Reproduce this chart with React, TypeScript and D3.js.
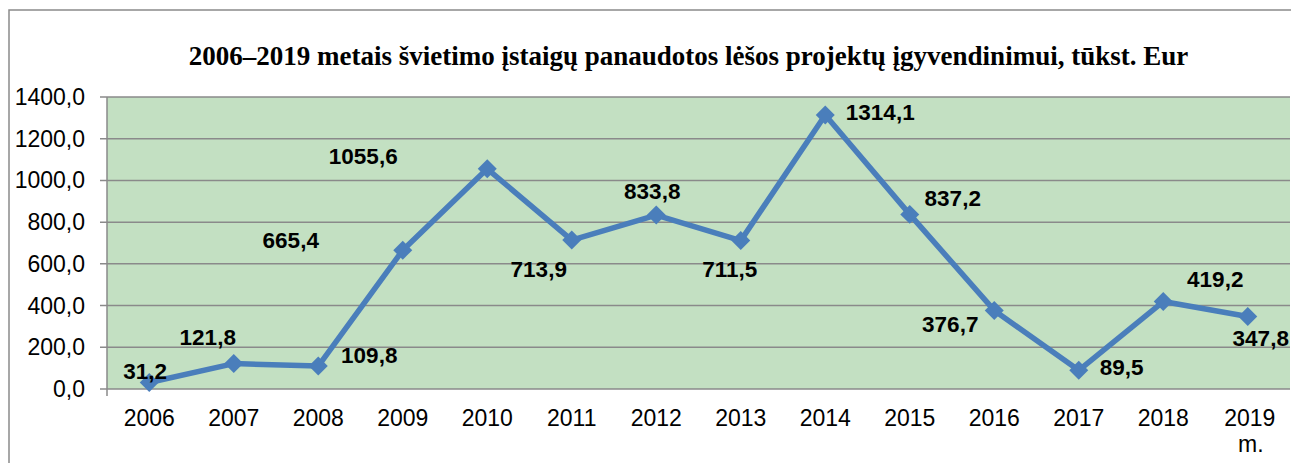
import React, { useEffect, useRef } from 'react';
import * as d3 from 'd3';

const years = ['2006', '2007', '2008', '2009', '2010', '2011', '2012', '2013', '2014', '2015', '2016', '2017', '2018', '2019'];
const values = [31.2, 121.8, 109.8, 665.4, 1055.6, 713.9, 833.8, 711.5, 1314.1, 837.2, 376.7, 89.5, 419.2, 347.8];
const yTicks = [0, 200, 400, 600, 800, 1000, 1200, 1400];
// where each value label sits, relative to its point (px)
const labelOffsets = [
  [-4, -3], [-26, -19], [51, -3], [-112, -2], [-124, -5], [-33, 37], [-4, -16],
  [-11, 36], [55, 5], [43, -8], [-44, 22], [43, 5], [52, -15], [13, 30],
];
const title = '2006–2019 metais švietimo įstaigų panaudotos lėšos projektų įgyvendinimui, tūkst. Eur';

const W = 1291, H = 463;
const sans = '"Liberation Sans", Arial, sans-serif';
const serif = '"Liberation Serif", "Times New Roman", serif';

const App = () => {
  const ref = useRef<SVGSVGElement | null>(null);

  useEffect(() => {
    if (!ref.current) return;
    const svg = d3.select(ref.current);
    svg.selectAll('*').remove();

    const left = 107, right = 1290, top = 97, bottom = 389;
    const x = d3.scaleBand().domain(years).range([left, right]);
    const y = d3.scaleLinear().domain([0, 1400]).range([bottom, top]);
    const cx = (i: number) => (x(years[i]) as number) + x.bandwidth() / 2;

    const locale = d3.formatLocale({ decimal: ',', thousands: '', grouping: [3], currency: ['', ''] });
    const fmt = locale.format('.1f');

    // outer frame (right/bottom edges fall off the picture)
    svg.append('rect')
      .attr('x', 9).attr('y', 10).attr('width', W + 20).attr('height', H + 20)
      .attr('fill', 'white').attr('stroke', '#8a8a8a').attr('stroke-width', 1.5);

    svg.append('text')
      .attr('x', 688.5).attr('y', 65)
      .attr('text-anchor', 'middle')
      .style('font-family', serif).style('font-weight', 'bold').style('font-size', '27px')
      .text(title);

    svg.append('rect')
      .attr('x', left).attr('y', top).attr('width', right - left).attr('height', bottom - top)
      .attr('fill', '#c3e0c2');

    // gridlines + y ticks
    yTicks.forEach(t => {
      svg.append('line')
        .attr('x1', left - 7).attr('x2', right)
        .attr('y1', y(t)).attr('y2', y(t))
        .attr('stroke', '#8a8a8a').attr('stroke-width', 1.5);
      svg.append('text')
        .attr('x', 85).attr('y', y(t)).attr('dy', '0.35em')
        .attr('text-anchor', 'end')
        .style('font-family', sans).style('font-size', '23px')
        .text(fmt(t));
    });

    svg.append('line')
      .attr('x1', left).attr('x2', left).attr('y1', top).attr('y2', bottom + 7)
      .attr('stroke', '#8a8a8a').attr('stroke-width', 1.5);

    // x labels
    years.forEach((yr, i) => {
      const t = svg.append('text')
        .attr('x', cx(i)).attr('y', 426)
        .attr('text-anchor', 'middle')
        .style('font-family', sans).style('font-size', '23px');
      if (i === years.length - 1) {
        t.append('tspan').attr('x', cx(i) + 2).text(yr);
        t.append('tspan').attr('x', cx(i) + 3).attr('dy', 26).text('m.');
      } else {
        t.text(yr);
      }
    });

    const line = d3.line<number>()
      .x((_, i) => cx(i))
      .y(d => y(d));

    svg.append('path')
      .datum(values)
      .attr('fill', 'none')
      .attr('stroke', '#4a7ebb')
      .attr('stroke-width', 5.5)
      .attr('stroke-linejoin', 'round')
      .attr('d', line);

    const marker = d3.symbol().type(d3.symbolSquare).size(180);
    values.forEach((v, i) => {
      svg.append('path')
        .attr('d', marker() as string)
        .attr('transform', `translate(${cx(i)},${y(v)}) rotate(45)`)
        .attr('fill', '#4a7ebb');
    });

    values.forEach((v, i) => {
      const [dx, dy] = labelOffsets[i];
      svg.append('text')
        .attr('x', cx(i) + dx).attr('y', y(v) + dy)
        .attr('text-anchor', 'middle')
        .style('font-family', sans).style('font-weight', 'bold').style('font-size', '22.5px')
        .text(fmt(v));
    });
  }, []);

  return (
    <svg ref={ref} width={W} height={H}
      style={{ position: 'absolute', left: 0, top: 0, display: 'block', background: 'white' }} />
  );
};

export default App;
